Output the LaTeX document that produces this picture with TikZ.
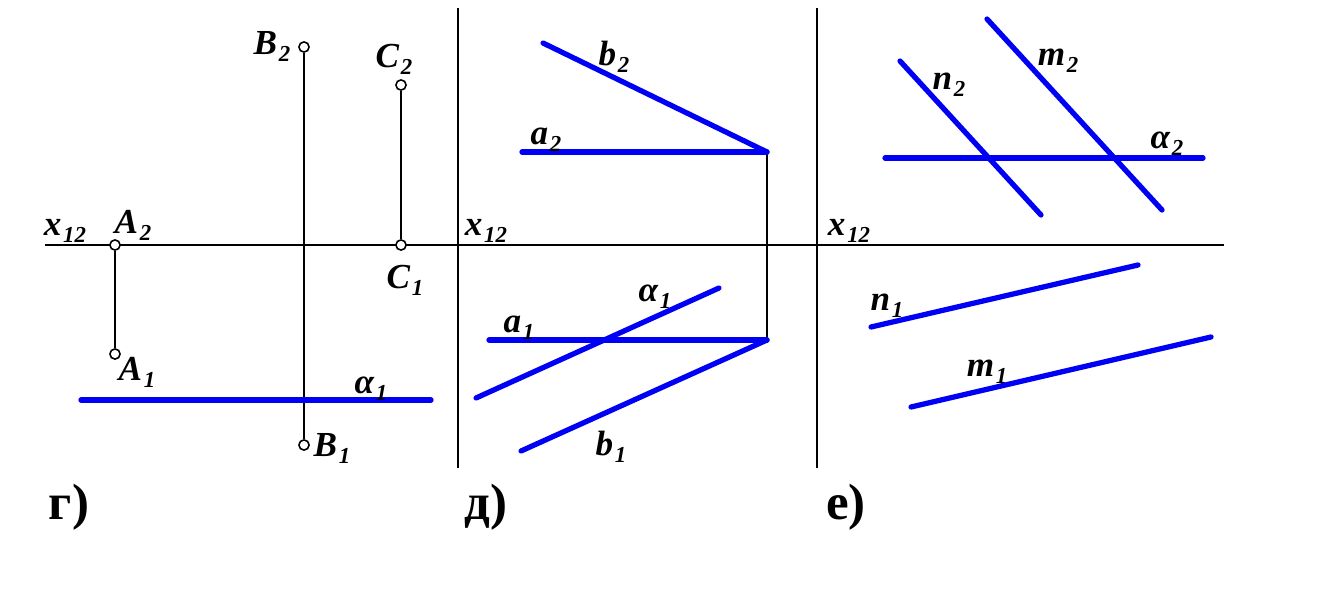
\documentclass[tikz,border=0pt]{standalone}
\usepackage{fontspec}
\setmainfont{Liberation Serif}
\definecolor{lineblue}{RGB}{0,0,245}
\tikzset{
  thinline/.style={black, line width=1.1pt},
  blueline/.style={lineblue, line width=3pt, line cap=round},
  pointmark/.style={circle, draw=black, fill=white, line width=0.9pt, inner sep=0pt, minimum size=5.8pt},
  lab/.style={inner sep=0pt, yshift=-2.6pt, font=\fontsize{20}{20}\selectfont\bfseries\itshape},
  panel/.style={inner sep=0pt, yshift=-2pt, font=\fontsize{29}{29}\selectfont\bfseries}
}
\newcommand{\sub}[2]{#1\kern1pt\raisebox{-4pt}{\fontsize{13}{13}\selectfont #2}}
\begin{document}
\begin{tikzpicture}[x=0.02cm, y=-0.02cm]
	\useasboundingbox (0,0) rectangle (1338,592);

	%axis
	\coordinate (axisL) at (45,245);
	\coordinate (axisR) at (1224,245);
	\draw[thinline] (axisL) -- (axisR);
	\coordinate (wallDt) at (458,8);
	\coordinate (wallDb) at (458,468);
	\coordinate (wallEt) at (817,8);
	\coordinate (wallEb) at (817,468);
	\draw[thinline] (wallDt) -- (wallDb);
	\draw[thinline] (wallEt) -- (wallEb);

	%1
	\coordinate (al1L) at (81,400);
	\coordinate (al1R) at (431,400);
	\node[pointmark] (A2) at (115,245) {};
	\node[pointmark] (A1) at (115,354) {};
	\node[pointmark] (B2) at (304,47) {};
	\node[pointmark] (B1) at (304,445) {};
	\node[pointmark] (C2) at (401,85) {};
	\node[pointmark] (C1) at (401,245) {};
	\draw[thinline] (A2) -- (A1);
	\draw[thinline] (B2) -- (B1);
	\draw[thinline] (C2) -- (C1);
	\draw[blueline] (al1L) -- (al1R);

	\node[lab] (x12g) at (65,226) {\sub{x}{12}};
	\node[lab] (lA2) at (133,221) {\sub{A}{2}};
	\node[lab] (lA1) at (137,368) {\sub{A}{1}};
	\node[lab] (lB2) at (272,42) {\sub{B}{2}};
	\node[lab] (lB1) at (332,444) {\sub{B}{1}};
	\node[lab] (lC2) at (394,55) {\sub{C}{2}};
	\node[lab] (lC1) at (405,276) {\sub{C}{1}};
	\node[lab] (lal1) at (371,384) {\sub{α}{1}};
	\node[panel] (pg) at (69,504) {г)};

	%2
	\coordinate (b2L) at (543,43);
	\coordinate (apexT) at (767,152);
	\coordinate (a2L) at (522,152);
	\coordinate (apexB) at (767,340);
	\coordinate (a1L) at (489,340);
	\coordinate (b1L) at (521,451);
	\coordinate (d1L) at (476,398);
	\coordinate (d1R) at (719,288);
	\draw[thinline] (apexT) -- (apexB);
	\draw[blueline] (b2L) -- (apexT);
	\draw[blueline] (a2L) -- (apexT);
	\draw[blueline] (a1L) -- (apexB);
	\draw[blueline] (b1L) -- (apexB);
	\draw[blueline] (d1L) -- (d1R);

	\node[lab] (x12d) at (486,226) {\sub{x}{12}};
	\node[lab] (lb2) at (614,52) {\sub{b}{2}};
	\node[lab] (la2) at (546,135) {\sub{a}{2}};
	\node[lab] (la1) at (519,323) {\sub{a}{1}};
	\node[lab] (lb1) at (611,442) {\sub{b}{1}};
	\node[lab] (lal1d) at (655,292) {\sub{α}{1}};
	\node[panel] (pd) at (486,504) {д)};

	%3
	\coordinate (n2T) at (900,61);
	\coordinate (n2B) at (1041,215);
	\coordinate (m2T) at (987,19);
	\coordinate (m2B) at (1162,210);
	\coordinate (al2L) at (885,158);
	\coordinate (al2R) at (1203,158);
	\coordinate (n1L) at (871,327);
	\coordinate (n1R) at (1138,265);
	\coordinate (m1L) at (911,407);
	\coordinate (m1R) at (1211,337);
	\draw[blueline] (n2T) -- (n2B);
	\draw[blueline] (m2T) -- (m2B);
	\draw[blueline] (al2L) -- (al2R);
	\draw[blueline] (n1L) -- (n1R);
	\draw[blueline] (m1L) -- (m1R);

	\node[lab] (x12e) at (849,226) {\sub{x}{12}};
	\node[lab] (ln2) at (949,80) {\sub{n}{2}};
	\node[lab] (lm2) at (1058,56) {\sub{m}{2}};
	\node[lab] (lal2) at (1167,139) {\sub{α}{2}};
	\node[lab] (ln1) at (887,301) {\sub{n}{1}};
	\node[lab] (lm1) at (987,367) {\sub{m}{1}};
	\node[panel] (pe) at (846,504) {е)};
\end{tikzpicture}
\end{document}
